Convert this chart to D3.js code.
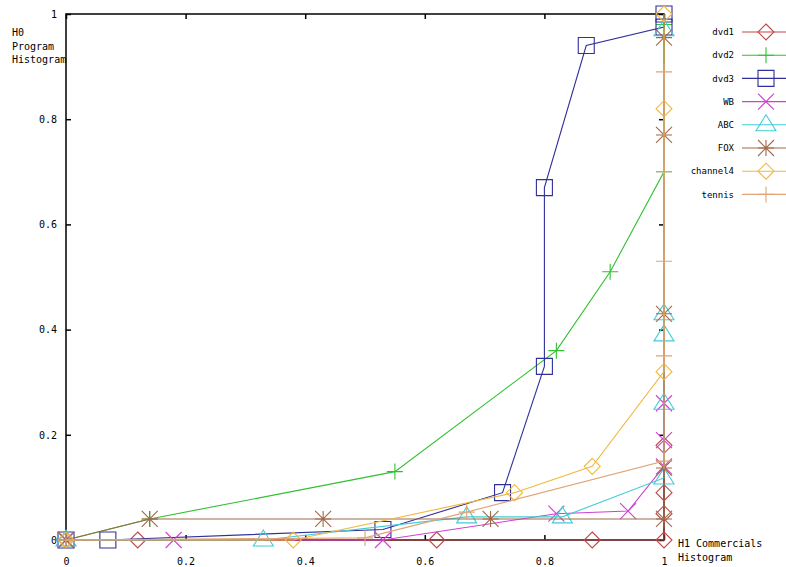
<!DOCTYPE html>
<html>
<head>
<meta charset="utf-8">
<script src="https://cdn.jsdelivr.net/npm/d3@7"></script>
<style>
  html, body { margin: 0; padding: 0; background: #fff; }
  svg { display: block; }
  text { font-family: "DejaVu Sans Mono", monospace; fill: #000; }
</style>
</head>
<body>
<svg id="chart" width="786" height="567"></svg>
<script>
// ---- data (x = H1 Commercials Histogram, y = H0 Program Histogram) ----
const seriesNames = ["dvd1", "dvd2", "dvd3", "WB", "ABC", "FOX", "channel4", "tennis"];
const dvd1 = [[0,0],[0.12,0],[0.62,0],[0.88,0],[1,0],[1,0.05],[1,0.09],[1,0.18]];
const dvd2 = [[0,0],[0.14,0.04],[0.55,0.13],[0.82,0.36],[0.91,0.51],[1,0.70],[1,0.98]];
const dvd3 = [[0,0],[0.07,0],[0.53,0.02],[0.73,0.09],[0.80,0.33],[0.80,0.67],[0.87,0.94],[1,0.975],[1,1.0]];
const WB = [[0,0],[0.18,0],[0.53,0],[0.82,0.05],[0.94,0.055],[1,0.14],[1,0.19],[1,0.26]];
const ABC = [[0,0],[0.33,0],[0.67,0.044],[0.83,0.044],[1,0.118],[1,0.26],[1,0.39],[1,0.43],[1,0.97]];
const FOX = [[0,0],[0.14,0.04],[0.43,0.04],[0.71,0.04],[1,0.04],[1,0.137],[1,0.43],[1,0.77],[1,0.955]];
const channel4 = [[0,0],[0.38,0],[0.75,0.09],[0.88,0.14],[1,0.32],[1,0.82],[1,1.0]];
const tennis = [[0,0],[0.50,0.004],[0.67,0.053],[1,0.15],[1,0.35],[1,0.53],[1,0.70],[1,0.89]];
const seriesValues = [dvd1, dvd2, dvd3, WB, ABC, FOX, channel4, tennis];
const xTicks = [0, 0.2, 0.4, 0.6, 0.8, 1];
const yTicks = [0, 0.2, 0.4, 0.6, 0.8, 1];

// ---- styles ----
const colors = ["#c04848", "#30c030", "#303098", "#d040d0", "#40ccd8", "#a06848", "#f0b840", "#e0a478"];
const shapes = ["diamond", "plus", "square", "cross", "triangle", "star", "diamond", "plus"];
const shapePath = {
  diamond: "M0,-8L8,0L0,8L-8,0Z",
  plus: "M-8,0H8M0,-8V8",
  square: "M-8,-8H8V8H-8Z",
  cross: "M-8,-8L8,8M8,-8L-8,8",
  triangle: "M0,-10L10,6L-10,6Z",
  star: "M-8,0H8M0,-8V8M-8,-8L8,8M8,-8L-8,8"
};

const svg = d3.select("#chart");
const x = d3.scaleLinear().domain([0, 1]).range([66, 664]);
const y = d3.scaleLinear().domain([0, 1]).range([540, 14]);
const fmt = d => d3.format("")(+d.toFixed(1));

// border frame
svg.append("rect")
  .attr("x", x(0)).attr("y", y(1))
  .attr("width", x(1) - x(0)).attr("height", y(0) - y(1))
  .attr("fill", "none").attr("stroke", "#000").attr("stroke-width", 1.5);

// axes with inward ticks (and mirrored ticks)
const axB = svg.append("g").attr("transform", `translate(0,${y(0)})`)
  .call(d3.axisBottom(x).tickValues(xTicks).tickFormat(fmt).tickSize(-5).tickPadding(18));
const axL = svg.append("g").attr("transform", `translate(${x(0)},0)`)
  .call(d3.axisLeft(y).tickValues(yTicks).tickFormat(fmt).tickSize(-5).tickPadding(9));
const axT = svg.append("g").attr("transform", `translate(0,${y(1)})`)
  .call(d3.axisTop(x).tickValues(xTicks).tickFormat("").tickSize(-5));
const axR = svg.append("g").attr("transform", `translate(${x(1)},0)`)
  .call(d3.axisRight(y).tickValues(yTicks).tickFormat("").tickSize(-5));
[axB, axL, axT, axR].forEach(g => {
  g.select(".domain").remove();
  g.selectAll("line").attr("stroke", "#000").attr("stroke-width", 1.5);
  g.selectAll("text").style("font-family", "DejaVu Sans Mono, monospace").style("font-size", "10px").attr("fill", "#000");
});

// series
const line = d3.line().x(d => x(d[0])).y(d => y(d[1]));
seriesValues.forEach((vals, i) => {
  const g = svg.append("g");
  g.append("path").attr("d", line(vals))
    .attr("fill", "none").attr("stroke", colors[i]).attr("stroke-width", 1.1);
  g.selectAll("path.pt").data(vals).enter().append("path")
    .attr("class", "pt")
    .attr("transform", d => `translate(${x(d[0])},${y(d[1])})`)
    .attr("d", shapePath[shapes[i]])
    .attr("fill", "none").attr("stroke", colors[i]).attr("stroke-width", 1.1);
});

// axis titles
const yl = svg.append("text").attr("x", 12).attr("y", 36).style("font-size", "10px");
["H0", "Program", "Histogram"].forEach((t, i) => yl.append("tspan").attr("x", 12).attr("dy", i ? 13.5 : 0).text(t));
const xl = svg.append("text").attr("x", 678).attr("y", 547).style("font-size", "10px");
["H1 Commercials", "Histogram"].forEach((t, i) => xl.append("tspan").attr("x", 678).attr("dy", i ? 13.5 : 0).text(t));

// legend
seriesNames.forEach((name, i) => {
  const ly = 32 + i * 23.2;
  svg.append("text").attr("x", 734).attr("y", ly).attr("dy", "0.35em")
    .attr("text-anchor", "end").style("font-size", "9px").text(name);
  svg.append("line").attr("x1", 742).attr("x2", 790).attr("y1", ly).attr("y2", ly)
    .attr("stroke", colors[i]).attr("stroke-width", 1.1);
  svg.append("path").attr("transform", `translate(766,${ly})`).attr("d", shapePath[shapes[i]])
    .attr("fill", "none").attr("stroke", colors[i]).attr("stroke-width", 1.1);
});
</script>
</body>
</html>
